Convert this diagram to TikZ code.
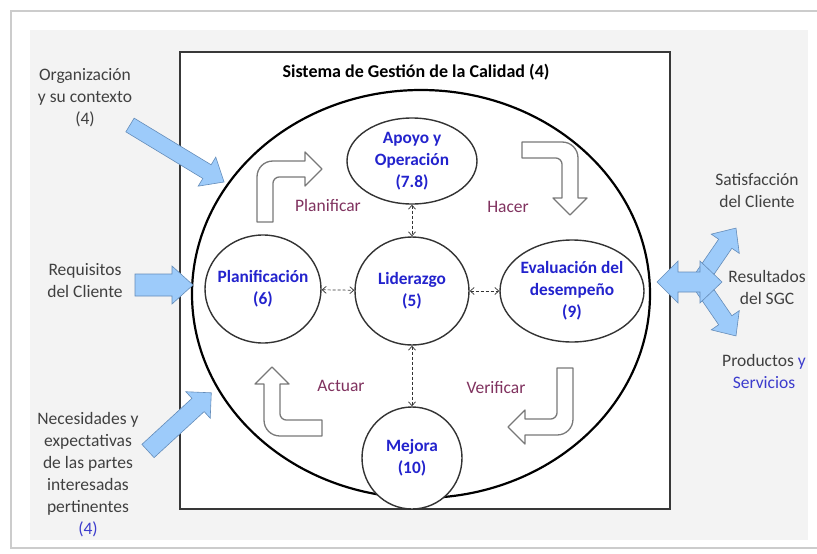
\documentclass[tikz,border=0pt]{standalone}
\usepackage{fontspec}
\setmainfont{Carlito}
\usetikzlibrary{arrows.meta,shapes.geometric}
\definecolor{bluefill}{RGB}{157,203,250}
\definecolor{blueline}{RGB}{100,140,185}
\definecolor{nodeblue}{RGB}{35,35,205}
\definecolor{textblue}{RGB}{60,60,205}
\definecolor{cyclepurple}{RGB}{128,50,95}
\definecolor{labelgray}{RGB}{64,64,64}
\definecolor{bggray}{RGB}{243,243,243}
\definecolor{hollowgray}{RGB}{120,120,120}
\tikzset{
  proc/.style={ellipse, draw=black!80, line width=1.4pt, fill=white, inner sep=0pt},
  proctext/.style={align=center, font=\fontsize{17.3}{22}\selectfont\bfseries, text=nodeblue, inner sep=0pt},
  cyclelbl/.style={font=\fontsize{17.5}{21}\selectfont, text=cyclepurple},
  sidelbl/.style={font=\fontsize{17.5}{22}\selectfont, text=labelgray, align=center},
  dlink/.style={densely dashed, line width=0.7pt, draw=black!80, {Straight Barb[length=4pt,width=7pt]}-{Straight Barb[length=4pt,width=7pt]}},
  hollow/.style={draw=hollowgray, line width=1.3pt, fill=white, line join=round},
  bluearrow/.style={fill=bluefill, draw=blueline, line width=0.6pt, line join=miter},
}
\newcommand\blockarr[7]{%
  \begin{scope}[shift={(#1,#2)}, rotate=#3]
    \path[bluearrow] (0,-#5) -- (#4-#7,-#5) -- (#4-#7,-#6) -- (#4,0) -- (#4-#7,#6) -- (#4-#7,#5) -- (0,#5) -- cycle;
  \end{scope}}
\begin{document}
\begin{tikzpicture}[x=1pt,y=-1pt]
\useasboundingbox (0,0) rectangle (817,554);
\clip (0,0) rectangle (817,554);
\fill[white] (0,0) rectangle (817,554);
\draw[draw=black!20, line width=2pt] (11,11) rectangle (830,548);
\fill[bggray] (30,30) rectangle (808,540);
\draw[fill=white, draw=black!78, line width=1.6pt] (180,52) rectangle (670,509);

\node[font=\fontsize{18}{21}\selectfont\bfseries] (title) at (416,72) {Sistema de Gestión de la Calidad (4)};

\node[ellipse, draw=black, line width=2.2pt, inner sep=0pt, minimum width=458pt, minimum height=408pt] (qms) at (421,294) {};

\node[proc, minimum width=130pt, minimum height=86pt, label={[proctext]center:{Apoyo y\\Operación\\(7.8)}}] (apoyo) at (412,161) {};
\node[proc, minimum width=114pt, minimum height=108pt, label={[proctext]center:{Liderazgo\\(5)}}] (lider) at (412,291) {};
\node[proc, minimum width=116pt, minimum height=108pt, label={[proctext]center:{Planificación\\(6)}}] (plan) at (263,289) {};
\node[proc, minimum width=144pt, minimum height=102pt, label={[proctext]center:{Evaluación del\\desempeño\\(9)}}] (eval) at (572,291) {};
\node[proc, minimum width=100pt, minimum height=102pt, label={[proctext]center:{Mejora\\(10)}}] (mejora) at (412,458) {};

\draw[dlink] (apoyo) -- (lider);
\draw[dlink] (plan) -- (lider);
\draw[dlink] (lider) -- (eval);
\draw[dlink] (lider) -- (mejora);

% hollow cycle arrows (rounded bends)
\path[hollow] (257,222) -- (257,177) .. controls (257,168) and (264,161) .. (273,161) -- (305,161) -- (305,152) -- (322,169) -- (305,186) -- (305,177) -- (279,177) .. controls (276,177) and (273,180) .. (273,183) -- (273,222) -- cycle;
\path[hollow] (522,142) -- (562,142) .. controls (571,142) and (578,149) .. (578,158) -- (578,198) -- (587,198) -- (570,215) -- (553,198) -- (562,198) -- (562,164) .. controls (562,161) and (559,158) .. (556,158) -- (522,158) -- cycle;
\path[hollow] (573,368) -- (573,419) .. controls (573,428) and (566,435) .. (557,435) -- (525,435) -- (525,444) -- (508,427) -- (525,410) -- (525,419) -- (551,419) .. controls (554,419) and (557,416) .. (557,413) -- (557,368) -- cycle;
\path[hollow] (322,436) -- (280,436) .. controls (271,436) and (264,429) .. (264,420) -- (264,384) -- (255,384) -- (272,367) -- (289,384) -- (280,384) -- (280,414) .. controls (280,417) and (283,420) .. (286,420) -- (322,420) -- cycle;

\node[cyclelbl] (planificar) at (328,205) {Planificar};
\node[cyclelbl] (hacer) at (508,207) {Hacer};
\node[cyclelbl] (actuar) at (341,386) {Actuar};
\node[cyclelbl] (verificar) at (496,388) {Verificar};

% blue input / output arrows
\blockarr{130}{125}{-31.2}{110}{8}{17}{20}
\blockarr{135}{285}{0}{58}{11}{19}{21}
\blockarr{148}{451}{42.6}{86}{9}{18}{18}
\blockarr{697}{285}{55.6}{69}{8}{17}{19}
\blockarr{697}{279}{-55.6}{69}{8}{17}{19}
\path[bluearrow] (657,282) -- (678,261) -- (678,272) -- (700,272) -- (700,261) -- (722,282) -- (700,303) -- (700,292) -- (678,292) -- (678,303) -- cycle;

% side labels
\node[sidelbl] (org) at (85,98) {Organización\\y su contexto\\(4)};
\node[sidelbl] (req) at (85,281) {Requisitos\\del Cliente};
\node[sidelbl] (nec) at (88,475) {Necesidades y\\expectativas\\de las partes\\interesadas\\pertinentes\\{\color{textblue}(4)}};
\node[sidelbl] (sat) at (757,191) {Satisfacción\\del Cliente};
\node[sidelbl] (res) at (767,287) {Resultados\\del SGC};
\node[sidelbl] (prod) at (764,371) {Productos {\color{textblue}y}\\{\color{textblue}Servicios}};
\end{tikzpicture}
\end{document}
